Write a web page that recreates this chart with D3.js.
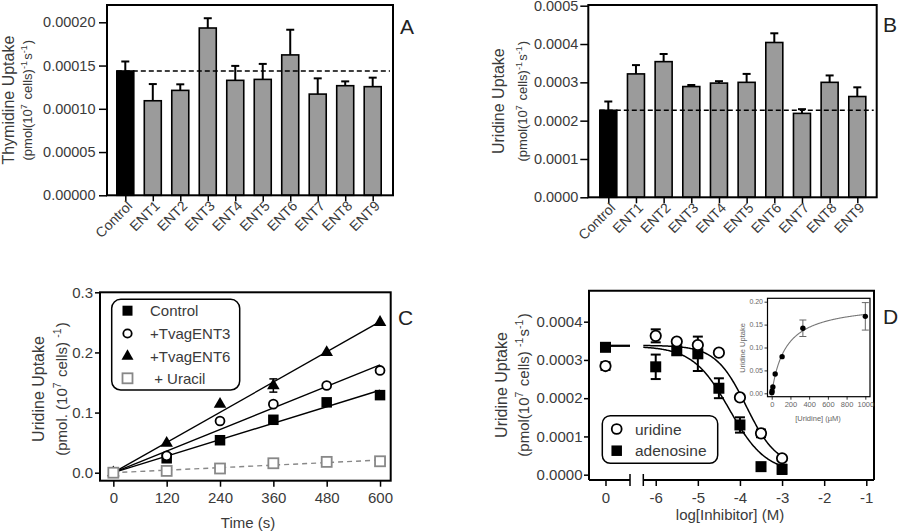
<!DOCTYPE html>
<html><head><meta charset="utf-8">
<script src="https://cdn.jsdelivr.net/npm/d3@7"></script>
<style>body{margin:0;background:#fff}svg{display:block}text{font-family:"Liberation Sans",Arial,Helvetica,sans-serif}</style>
</head><body>
<svg id="c" width="900" height="531"></svg>
<script>
// ---------- DATA ----------
const categories = ["Control","ENT1","ENT2","ENT3","ENT4","ENT5","ENT6","ENT7","ENT8","ENT9"];
// Panel A: thymidine uptake
const thymidineMean = [0.0001437,0.0001093,0.0001213,0.0001934,0.0001329,0.000134,0.0001623,0.000117,0.0001267,0.0001256];
const thymidineErr  = [0.000011,0.0000193,0.000007,0.0000113,0.0000167,0.0000179,0.0000291,0.0000182,0.000005,0.0000104];
const thymidineTicks = [0,0.00005,0.0001,0.00015,0.0002];
// Panel B: uridine uptake
const uridineMean = [0.000227,0.000322,0.000354,0.000289,0.000298,0.0003,0.000404,0.000219,0.0003,0.000263];
const uridineErr  = [0.000023,0.000023,0.00002,0.000004,0.000005,0.000022,0.000024,0.000011,0.000018,0.000024];
const uridineTicks = [0,0.0001,0.0002,0.0003,0.0004,0.0005];
// Panel C: time course
const times = [0,120,240,360,480,600];
const ctrlUptake = [0,0.024,0.054,0.088,0.117,0.129];
const ent3Uptake = [0,0.028,0.086,0.114,0.145,0.17];
const ent6Uptake = [0,0.049,0.114,0.145,0.2,0.25];
const ent6Err    = [0,0,0,0.011,0,0];
const uracilUptake = [0,0.003,0.007,0.0157,0.018,0.019];
const timeTicks = [0,120,240,360,480,600];
const cTicks = [0,0.1,0.2,0.3];
// Panel D: inhibition
const logInhibitor = [-6,-5.5,-5,-4.5,-4,-3.5,-3];
const uridineInh = [0.000363,0.000348,0.000339,0.000319,0.000202,0.000108,0.000043];
const uridineInhErr = [0.000017,0.000005,0.000005,0,0.000005,0.00001,0.000006];
const adenosineInh = [0.000282,0.000324,0.000316,0.000226,0.00013,0.000021,0.000014];
const adenosineInhErr = [0.000032,0.00001,0.000045,0.000026,0.00002,0.000005,0.000012];
const uridineCtrl = [0.000284,0.00001];     // value, error at "0"
const adenosineCtrl = [0.000333,0.000008];
// sigmoid fit parameters: top, bottom, logIC50, hill
const uridineFit = [0.000338,0.00002,-3.85,1.2];
const adenosineFit = [0.000336,0.000005,-4.25,1.0];
const dTicks = [0,0.0001,0.0002,0.0003,0.0004];
const dXTicks = [-6,-5,-4,-3,-2,-1];
// Inset: kinetics
const uridineConc = [1.37,4.1,12.3,37,111,333,1000];
const uridineRate = [0.001,0.005,0.014,0.042,0.08,0.142,0.168];
const uridineRateErr = [0,0,0,0,0,0.018,0.03];
const mmFit = [0.198,150]; // Vmax, Km
const insetXTicks = [0,200,400,600,800,1000];
const insetYTicks = [0,0.05,0.1,0.15,0.2];

// ---------- DRAW ----------
const svg = d3.select("#c");
const TXT = "#3a3a3a";

function styleAxis(g, fs){
  g.select(".domain").remove();
  g.selectAll(".tick line").attr("stroke","#000").attr("stroke-width",1.5);
  g.selectAll(".tick text").attr("fill",TXT).style("font-size",fs+"px");
}
function yLabel(g, x1, x2, cy, line1, parts, fs1, fs2){
  g.append("text").attr("transform",`translate(${x1},${cy}) rotate(-90)`).attr("text-anchor","middle")
    .attr("fill",TXT).style("font-size",fs1+"px").text(line1);
  const t = g.append("text").attr("transform",`translate(${x2},${cy}) rotate(-90)`).attr("text-anchor","middle")
    .attr("fill",TXT).style("font-size",fs2+"px");
  parts.forEach(p=>{
    if(p.sup){
      t.append("tspan").attr("dy",-fs2*0.4).style("font-size",(fs2*0.7)+"px").text(p.t);
      t.append("tspan").attr("dy",fs2*0.4).text("\u200a");
    } else t.append("tspan").text(p.t);
  });
}
function letter(x,y,s){ svg.append("text").attr("x",x).attr("y",y).attr("fill","#222").style("font-size","21px").text(s); }

function drawSym(g,sym,cx,cy,sz){
  sz = sz||10;
  if(sym==="sq") g.append("rect").attr("x",cx-sz/2).attr("y",cy-sz/2).attr("width",sz).attr("height",sz).attr("fill","#000");
  else if(sym==="osq") g.append("rect").attr("x",cx-sz/2).attr("y",cy-sz/2).attr("width",sz).attr("height",sz).attr("fill","#fff").attr("stroke","#888").attr("stroke-width",1.8);
  else if(sym==="circ") g.append("circle").attr("cx",cx).attr("cy",cy).attr("r",sz/2-0.8).attr("fill","#fff").attr("stroke","#000").attr("stroke-width",1.8);
  else if(sym==="tri") g.append("path").attr("transform",`translate(${cx},${cy})`).attr("d",d3.symbol(d3.symbolTriangle,sz*sz*0.62)()).attr("fill","#000");
}

function barPanel(o){
  const g = svg.append("g");
  const y = d3.scaleLinear().domain([0,o.yMax]).range([o.bottom,o.yTop]);
  const x = d3.scalePoint().domain(categories).range([o.x0,o.x1]);
  const bw = 17;
  g.selectAll("rect.bar").data(categories).join("rect").attr("class","bar")
    .attr("x",d=>x(d)-bw/2).attr("width",bw)
    .attr("y",(d,i)=>y(o.means[i])).attr("height",(d,i)=>y(0)-y(o.means[i]))
    .attr("fill",(d,i)=>i===0?"#000":"#9b9b9b").attr("stroke","#000").attr("stroke-width",1.6);
  const eb = g.selectAll("g.eb").data(categories).join("g").attr("class","eb");
  eb.append("line").attr("x1",d=>x(d)).attr("x2",d=>x(d))
    .attr("y1",(d,i)=>y(o.means[i])).attr("y2",(d,i)=>y(o.means[i]+o.errs[i]))
    .attr("stroke","#000").attr("stroke-width",2);
  eb.append("line").attr("x1",d=>x(d)-4).attr("x2",d=>x(d)+4)
    .attr("y1",(d,i)=>y(o.means[i]+o.errs[i])).attr("y2",(d,i)=>y(o.means[i]+o.errs[i]))
    .attr("stroke","#000").attr("stroke-width",2);
  g.append("line").attr("x1",x(categories[0])-bw/2).attr("x2",o.right-3)
    .attr("y1",y(o.means[0])).attr("y2",y(o.means[0]))
    .attr("stroke","#000").attr("stroke-width",1.6).attr("stroke-dasharray","5,3");
  g.append("rect").attr("x",o.left).attr("y",o.frameTop).attr("width",o.right-o.left).attr("height",o.bottom-o.frameTop)
    .attr("fill","none").attr("stroke","#000").attr("stroke-width",2);
  g.append("g").attr("transform",`translate(${o.left},0)`)
    .call(d3.axisLeft(y).tickValues(o.ticks).tickFormat(d3.format(o.fmt)).tickSize(8).tickPadding(o.pad))
    .call(styleAxis,14.5);
  const xa = g.append("g").attr("transform",`translate(0,${o.bottom})`)
    .call(d3.axisBottom(x).tickSize(6).tickPadding(2));
  styleAxis(xa,14);
  xa.selectAll(".tick text").attr("text-anchor","end")
    .attr("transform","translate(4,8) rotate(-45)").attr("y",0).attr("x",0).attr("dy","0.35em");
  yLabel(g,o.l1,o.l2,(o.frameTop+o.bottom)/2,o.title,
    [{t:"(pmol(10"},{t:"7",sup:1},{t:" cells)"},{t:"-1",sup:1},{t:"s"},{t:"-1",sup:1},{t:")"}],16,13);
}

barPanel({left:107,right:393,frameTop:5,yTop:5,bottom:195.3,yMax:0.00022,x0:125.3,x1:372.7,
  means:thymidineMean,errs:thymidineErr,ticks:thymidineTicks,fmt:".5f",pad:3.5,
  l1:14,l2:32,title:"Thymidine Uptake"});
letter(400,33.5,"A");
barPanel({left:588.3,right:876.7,frameTop:5,yTop:5.7,bottom:197.3,yMax:0.0005,x0:608.3,x1:857.3,
  means:uridineMean,errs:uridineErr,ticks:uridineTicks,fmt:".4f",pad:2,
  l1:503.5,l2:527,title:"Uridine Uptake"});
letter(883,32,"B");

// ---------- Panel C ----------
(function(){
  const L=100,R=390.7,T=292.3,B=480.7;
  const g = svg.append("g");
  const x = d3.scaleLinear().domain([-30,624]).range([L,R]);
  const y = d3.scaleLinear().domain([-0.0133,0.3]).range([B,T]);
  const series = [
    {v:ctrlUptake,sym:"sq",col:"#000",dash:null},
    {v:ent3Uptake,sym:"circ",col:"#000",dash:null},
    {v:ent6Uptake,sym:"tri",col:"#000",dash:null,err:ent6Err},
    {v:uracilUptake,sym:"osq",col:"#888",dash:"5,4"}];
  series.forEach(s=>{
    const slope = d3.sum(times,(t,i)=>t*s.v[i]) / d3.sum(times,t=>t*t);
    g.append("line").attr("x1",x(0)).attr("y1",y(0)).attr("x2",x(600)).attr("y2",y(slope*600))
      .attr("stroke",s.col).attr("stroke-width",1.4).attr("stroke-dasharray",s.dash);
  });
  series.forEach(s=>{
    if(s.err) times.forEach((t,i)=>{ if(s.err[i]>0){
      const a=s.v[i]-s.err[i], b=s.v[i]+s.err[i];
      g.append("line").attr("x1",x(t)).attr("x2",x(t)).attr("y1",y(a)).attr("y2",y(b)).attr("stroke","#000").attr("stroke-width",1.5);
      [a,b].forEach(v=>g.append("line").attr("x1",x(t)-4).attr("x2",x(t)+4).attr("y1",y(v)).attr("y2",y(v)).attr("stroke","#000").attr("stroke-width",1.5));
    }});
    times.forEach((t,i)=>drawSym(g,s.sym,x(t),y(s.v[i]),s.sym==="osq"?10:10.5));
  });
  g.append("rect").attr("x",L).attr("y",T).attr("width",R-L).attr("height",B-T).attr("fill","none").attr("stroke","#000").attr("stroke-width",2);
  g.append("g").attr("transform",`translate(${L},0)`).call(d3.axisLeft(y).tickValues(cTicks).tickFormat(d3.format(".1f")).tickSize(5).tickPadding(2)).call(styleAxis,15);
  g.append("g").attr("transform",`translate(0,${B})`).call(d3.axisBottom(x).tickValues(timeTicks).tickSize(6).tickPadding(6)).call(styleAxis,15);
  g.append("text").attr("x",248).attr("y",528).attr("text-anchor","middle").attr("fill",TXT).style("font-size","15px").text("Time (s)");
  yLabel(g,44,67,389,"Uridine Uptake",[{t:"(pmol. (10"},{t:"7",sup:1},{t:" cells) "},{t:"-1",sup:1},{t:")"}],16,15);
  // legend
  g.append("rect").attr("x",111.7).attr("y",299.3).attr("width",128).attr("height",90.7).attr("rx",9)
    .attr("fill","#fff").attr("stroke","#000").attr("stroke-width",1.5);
  const labs = ["Control","+TvagENT3","+TvagENT6"," + Uracil"];
  const ly = [310.7,333.5,356.2,378.3];
  series.forEach((s,i)=>{
    drawSym(g,s.sym,127.5,ly[i],s.sym==="osq"?10:10);
    g.append("text").attr("x",150).attr("y",ly[i]+5.3).attr("fill",TXT).style("font-size","15px").style("white-space","pre").text(labs[i]);
  });
  letter(398,325,"C");
})();

// ---------- Panel D ----------
(function(){
  const L=589,R=874,T=290.7,B=480;
  const g = svg.append("g");
  const y = d3.scaleLinear().domain([-0.0000139,0.000481]).range([B,T]);
  const x0 = d3.scaleLinear().domain([-0.39,0.58]).range([L,630]);
  const x = d3.scaleLinear().domain([-6.295,-0.817]).range([643.3,R]);
  const sig = (p,lx)=>p[1]+(p[0]-p[1])/(1+Math.pow(10,(lx-p[2])*p[3]));
  [uridineFit,adenosineFit].forEach(p=>{
    const xs = d3.range(-6.295,-2.999,0.02).concat([-3]);
    g.append("path").attr("d",d3.line().x(d=>x(d)).y(d=>y(sig(p,d)))(xs)).attr("fill","none").attr("stroke","#000").attr("stroke-width",1.5);
    g.append("line").attr("x1",x0(0)).attr("x2",630).attr("y1",y(p[0])).attr("y2",y(p[0])).attr("stroke","#000").attr("stroke-width",1.5);
  });
  function errBar(px,v,e){
    if(!e) return;
    g.append("line").attr("x1",px).attr("x2",px).attr("y1",y(v-e)).attr("y2",y(v+e)).attr("stroke","#000").attr("stroke-width",2);
    [v-e,v+e].forEach(w=>g.append("line").attr("x1",px-5).attr("x2",px+5).attr("y1",y(w)).attr("y2",y(w)).attr("stroke","#000").attr("stroke-width",2));
  }
  errBar(x0(0),uridineCtrl[0],uridineCtrl[1]); errBar(x0(0),adenosineCtrl[0],adenosineCtrl[1]);
  logInhibitor.forEach((l,i)=>{ errBar(x(l),uridineInh[i],uridineInhErr[i]); errBar(x(l),adenosineInh[i],adenosineInhErr[i]); });
  drawSym(g,"sq",x0(0),y(adenosineCtrl[0]),11);
  drawSym(g,"circ",x0(0),y(uridineCtrl[0]),12);
  logInhibitor.forEach((l,i)=>{ drawSym(g,"sq",x(l),y(adenosineInh[i]),11); drawSym(g,"circ",x(l),y(uridineInh[i]),12); });
  // frame with broken bottom axis
  g.append("path").attr("d",`M${L},${B}V${T}H${R}V${B}`).attr("fill","none").attr("stroke","#000").attr("stroke-width",2);
  g.append("line").attr("x1",L).attr("x2",630).attr("y1",B).attr("y2",B).attr("stroke","#000").attr("stroke-width",2);
  g.append("line").attr("x1",643.3).attr("x2",R).attr("y1",B).attr("y2",B).attr("stroke","#000").attr("stroke-width",2);
  [630,643.3].forEach(bx=>g.append("line").attr("x1",bx).attr("x2",bx).attr("y1",B-6).attr("y2",B+6).attr("stroke","#000").attr("stroke-width",1.5));
  g.append("g").attr("transform",`translate(${L},0)`).call(d3.axisLeft(y).tickValues(dTicks).tickFormat(d3.format(".4f")).tickSize(5).tickPadding(1.5)).call(styleAxis,15);
  g.append("g").attr("transform",`translate(0,${B})`).call(d3.axisBottom(x0).tickValues([0]).tickFormat(d3.format("d")).tickSize(6).tickPadding(6)).call(styleAxis,15);
  g.append("g").attr("transform",`translate(0,${B})`).call(d3.axisBottom(x).tickValues(dXTicks).tickFormat(d=>String(d)).tickSize(6).tickPadding(6)).call(styleAxis,15);
  g.append("text").attr("x",730).attr("y",520).attr("text-anchor","middle").attr("fill",TXT).style("font-size","15px").text("log[Inhibitor] (M)");
  yLabel(g,507,529,385,"Uridine Uptake",[{t:"(pmol(10"},{t:"7",sup:1},{t:" cells) "},{t:"-1",sup:1},{t:"s"},{t:"-1",sup:1},{t:")"}],16,15);
  // legend
  g.append("rect").attr("x",602.3).attr("y",415.7).attr("width",115.4).attr("height",47.6).attr("rx",8)
    .attr("fill","#fff").attr("stroke","#000").attr("stroke-width",1.5);
  drawSym(g,"circ",616.7,429,11.5); drawSym(g,"sq",616.7,450.7,10.5);
  g.append("text").attr("x",635).attr("y",434.5).attr("fill",TXT).style("font-size","15.5px").text("uridine");
  g.append("text").attr("x",635).attr("y",456.2).attr("fill",TXT).style("font-size","15.5px").text("adenosine");
  letter(883,323.5,"D");

  // inset
  const iL=767.5,iR=870,iT=298.3,iB=396.7;
  const ix = d3.scaleLinear().domain([-45,1050]).range([iL,iR]);
  const iy = d3.scaleLinear().domain([-0.0074,0.2074]).range([iB,iT]);
  const mm = c=>mmFit[0]*c/(mmFit[1]+c);
  g.append("path").attr("d",d3.line().x(c=>ix(c)).y(c=>iy(mm(c)))(d3.range(0,1001,5))).attr("fill","none").attr("stroke","#777").attr("stroke-width",1.1);
  uridineConc.forEach((c,i)=>{
    const e=uridineRateErr[i];
    if(e){
      g.append("line").attr("x1",ix(c)).attr("x2",ix(c)).attr("y1",iy(uridineRate[i]-e)).attr("y2",iy(uridineRate[i]+e)).attr("stroke","#666").attr("stroke-width",1);
      [uridineRate[i]-e,uridineRate[i]+e].forEach(w=>g.append("line").attr("x1",ix(c)-3.5).attr("x2",ix(c)+3.5).attr("y1",iy(w)).attr("y2",iy(w)).attr("stroke","#666").attr("stroke-width",1));
    }
    g.append("circle").attr("cx",ix(c)).attr("cy",iy(uridineRate[i])).attr("r",2.7).attr("fill","#000");
  });
  g.append("rect").attr("x",iL).attr("y",iT).attr("width",iR-iL).attr("height",iB-iT).attr("fill","none").attr("stroke","#000").attr("stroke-width",1.2);
  const ia = g.append("g").attr("transform",`translate(${iL},0)`).call(d3.axisLeft(iy).tickValues(insetYTicks).tickFormat(d3.format(".2f")).tickSize(3).tickPadding(1.5));
  styleAxis(ia,7); ia.selectAll(".tick line").attr("stroke-width",0.8); ia.selectAll(".tick text").attr("fill","#666");
  const ib = g.append("g").attr("transform",`translate(0,${iB})`).call(d3.axisBottom(ix).tickValues(insetXTicks).tickFormat(d3.format("d")).tickSize(3).tickPadding(2));
  styleAxis(ib,7.5); ib.selectAll(".tick line").attr("stroke-width",0.8); ib.selectAll(".tick text").attr("fill","#666");
  g.append("text").attr("transform","translate(745,348) rotate(-90)").attr("text-anchor","middle").attr("fill","#666").style("font-size","7.5px").text("Uridine Uptake");
  g.append("text").attr("x",818).attr("y",421).attr("text-anchor","middle").attr("fill","#666").style("font-size","7.5px").text("[Uridine] (\u00b5M)");
})();
</script>
</body></html>
